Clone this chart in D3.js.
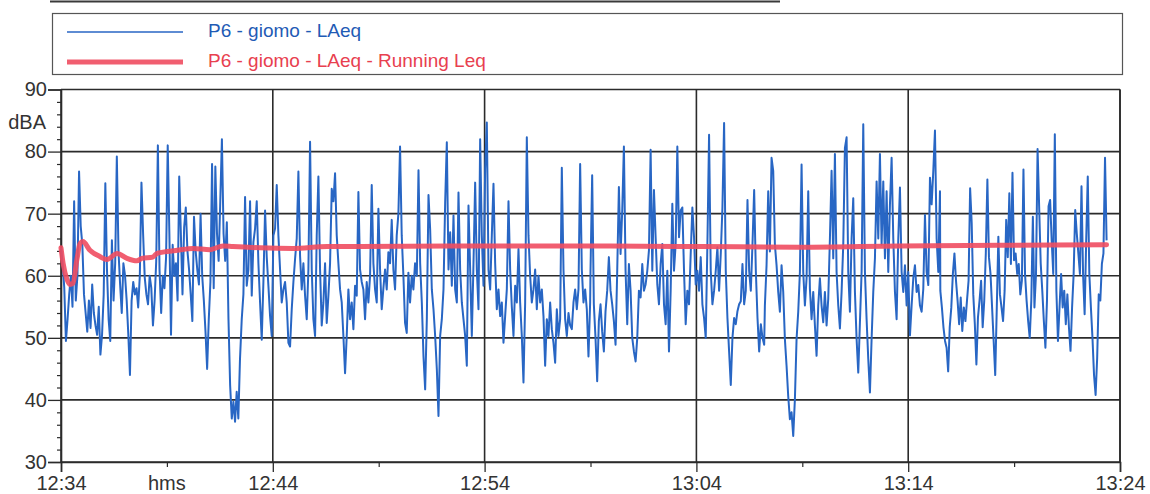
<!DOCTYPE html>
<html><head><meta charset="utf-8">
<script src="https://cdn.jsdelivr.net/npm/d3@7"></script>
<style>
body{margin:0;background:#fff}
svg{display:block}
text{font-family:"Liberation Sans",Arial,Helvetica,sans-serif}
</style>
</head><body>
<svg id="chart" width="1150" height="494"></svg>
<script>
// ---------- DATA ----------
const seriesNames = ["P6 - giomo - LAeq", "P6 - giomo - LAeq - Running Leq"];
const xTickLabels = ["12:34","12:44","12:54","13:04","13:14","13:24"];
const xMinorTicks = ["12:39","12:49","12:59","13:09","13:19"];
const yTicks = [30,40,50,60,70,80,90];
const yUnit = "dBA";
const xUnit = "hms";

// LAeq short samples, grouped in consecutive time spans
const segStarts = ["12:34:00","12:42:32","12:50:48","12:59:00","13:07:14","13:15:31"];
const segEnds   = ["12:42:27","12:50:43","12:58:59","13:07:12","13:15:30","13:23:22"];
const laeq1 = [64.5,62,58,49.5,53,57,60,55,72,56,60,76.8,68,65,57,54,51,56,51.6,58.6,54,52,50.5,55,47.3,50.5,57,74.9,61,53,49.5,65.7,56,62,79.2,64,58.6,54,62,60,56,50.5,44,56,59,57,58,54.9,60,75,66.8,59.7,57,55.4,60,58,52,56,62.4,81,61,54,60,58,63,81,66.8,50.5,65,60,62,56,76,66.8,57,67.8,71,64,61,57,52.7,69.5,64,61,58.6,70,60,56,51,45,53,59,78,58,77.6,66.8,62.4,72,82,66.8,62.4,68.6,53,42.4,37,39.7,36.5,41.3,37,46.5];
const laeq2 = [53,57,72.7,58.4,61,72,56.8,65.4,67.6,72,62,55.7,49.7,59,70.5,63,58.4,53.5,50.3,66.5,67.6,74.6,66.5,61,55.7,57.8,59,55.7,49.2,48.6,54.6,59,62.7,66,76.8,63.2,57.8,62,56.8,53,61,81.6,61,53,50.3,66.5,76,61,52,55.7,62,52.4,56.8,62,74,72,76.5,66.5,62,57.8,55.7,50.3,44.3,50.3,57.8,53,55.7,51.4,58.4,56.8,73.5,61,59,57.8,53,59,55.7,60,74.6,62,57.8,55.7,70.8,61,54.6,58,61,57.8,63.8,62,69,61,57.8,66.5,70,80.8,66.5,60,52.4,50.8,60.5,55.7,60,57.8,62];
const laeq3 = [60,77,62,55.7,47,41.7,53,73,67.5,57.8,54.6,50.3,45,37.4,50.3,53,57.8,71.8,81.5,61,67,58.4,69.7,57.8,55.7,73.4,61,55.7,53,50.3,45.5,71.3,61,50.3,62,75,61,54.6,82,66.5,58.4,77.2,84.7,61,57.8,66.5,74.8,62,54.6,57.8,53.5,55.7,49.2,53.5,57.8,72,61,55,50.3,58.4,55.7,64.3,55.7,50.3,42.8,55.7,82.3,66.5,60,55.7,57.8,61,54.6,60,55.7,57.8,53.5,45.5,53,50.3,55.7,51.4,49.2,46,54.6,50.3,53,77.4,61,53,50.3,54,52,51.4,55.7,57.8,54.6,57.8,78,61,55.7,57.8,54.6,47,55.7];
const laeq4 = [60.8,76.2,55.4,50,43,52.7,55.4,51,47.8,54.3,57.6,63,57.6,55.4,52.7,48.9,60.8,74.3,63.5,70.5,80.8,60.8,52.2,61.9,57.6,50,47.8,46.2,50,57.6,56.5,61.9,57.6,58.6,60.8,64.1,80.3,60.8,73.8,66.2,58.6,55.4,61.9,65.1,55.4,52.2,60.8,47.8,57.6,71.6,60.8,65.1,80.8,66.2,70.5,71,60.8,52.2,57.6,55.4,63.5,71,66.2,58.6,60.8,57.6,63,55.4,53.2,50,65.1,82.7,60.8,55.4,57.6,60.8,64.6,57.6,63.5,71,84.6,60.8,53.2,47.8,42.4,50,53.2,52.2,54.3,55.4,55.9,61.9,55.4,57.6,72.2,60.8,57.6,65.1,73.8,60.8,53.2,47.8,52.2,50,48.9];
const laeq5 = [55.2,61.7,73.6,63.9,79,76.9,65,61.7,57.4,54.2,61.7,57.4,49.8,45.5,40.6,36.9,38,34.2,40.1,49.8,54.2,60.6,77.9,60.6,55.2,59.6,73.6,57.9,53,57.4,52,47.1,55.2,59.6,55.2,52.5,57.4,52,56.3,66,76.9,62.8,79.6,60.6,55.2,51.5,57.4,65,80.6,82.3,60.6,54.2,66,72.5,57.4,49.8,44.4,52.5,60.6,84.4,60.6,53,46.6,41.2,49.8,57.4,62.8,75.2,66,79.6,65,75.2,62.8,73.6,60.6,71.5,79,66,57.4,53,66,74.2,60.6,57.4,61.7,55.2,60.6,50.4,55.2,59.6,61.7,57.4,58.5,55.2,54.2,57.9,69.8,60.6,58.5,75.8,71.5,76.9,83.4,66,60.6,73.6];
const laeq6 = [57.6,54.9,51.7,49.5,48.4,44.6,51.7,54.9,60.3,63.6,59.2,56,52.2,56.5,51.1,54.9,52.7,56,59.2,74.1,68.5,57,52.2,45.7,53.3,56,59.2,51.7,56,63.6,75.5,63,60.3,54.9,49.5,44,54.9,66.3,57,54.9,52.7,57.6,69,63,73.3,61.9,76.6,62.5,63.6,60.3,61.9,57,59.2,77.1,60.3,56,52.7,50,56,69.5,54.9,60.3,80.4,71.2,62,57.6,52.7,48.4,56,71.2,72.2,65.7,60.3,82.8,57.6,49.5,54.9,60.3,54.9,57.6,52.2,57,51.7,47.9,54.9,60.3,70.6,66.8,63.6,60.3,74.4,60.3,53.8,65.7,76,60.3,54.9,50,44,40.8,46.8,57,56,61.9,63.6,79,65.7];

// Running Leq
const leqTimes = ["12:34:00","12:34:06","12:34:17","12:34:25","12:34:34","12:34:45","12:34:54","12:35:02","12:35:22","12:35:50","12:36:10","12:36:39","12:37:07","12:37:35","12:37:49","12:38:20","12:38:32","12:39:00","12:39:29","12:40:14","12:41:02","12:41:39","12:42:07","12:43:24","12:44:57","12:46:34","12:48:07","12:52:22","12:59:27","13:04:10","13:08:54","13:13:36","13:18:18","13:23:22"];
const leqValues = [64.5,62,59.4,58.6,58.8,62.6,65.2,65.5,64.1,63.1,62.6,63.6,62.8,62.4,62.8,63.0,63.6,63.9,64.1,64.4,64.2,64.8,64.7,64.5,64.4,64.7,64.7,64.8,64.8,64.7,64.6,64.8,64.9,65.0];

// ---------- DRAW ----------
const svg = d3.select("#chart");
const parseHMS = d3.timeParse("%H:%M:%S");
const parseHM = d3.timeParse("%H:%M");
const L = 61, R = 1120, T = 89.5, B = 462;
const axisColor = "#2b2b2b";
const textColor = "#333";
const blue = "#2866c4";
const red = "#f04d60";

const x = d3.scaleTime()
  .domain([parseHM(xTickLabels[0]), parseHM(xTickLabels[xTickLabels.length-1])])
  .range([L, R]);
const y = d3.scaleLinear().domain([30, 90]).range([B, T]);

// stray scan line at very top
svg.append("line").attr("x1",50).attr("x2",780).attr("y1",1.5).attr("y2",1.5)
  .attr("stroke","#3a3a3a").attr("stroke-width",2);

// legend box
const lg = svg.append("g");
lg.append("rect").attr("x",52.5).attr("y",13.5).attr("width",1070).attr("height",61)
  .attr("fill","#fff").attr("stroke","#555").attr("stroke-width",1.2);
lg.append("line").attr("x1",67).attr("x2",183).attr("y1",32).attr("y2",32)
  .attr("stroke",blue).attr("stroke-width",1.6);
lg.append("line").attr("x1",67).attr("x2",183).attr("y1",62).attr("y2",62)
  .attr("stroke",red).attr("stroke-width",5).attr("stroke-opacity",0.9);
lg.append("text").attr("x",208).attr("y",37).attr("font-size",19)
  .attr("fill","#1f5bb5").text(seriesNames[0]);
lg.append("text").attr("x",208).attr("y",67).attr("font-size",19)
  .attr("fill","#e8404f").text(seriesNames[1]);

// grid
const grid = svg.append("g");
grid.selectAll("line.h").data(yTicks).join("line")
  .attr("x1",L).attr("x2",R).attr("y1",d=>y(d)).attr("y2",d=>y(d))
  .attr("stroke",axisColor).attr("stroke-width",1.6);
grid.selectAll("line.v").data(xTickLabels).join("line")
  .attr("x1",d=>x(parseHM(d))).attr("x2",d=>x(parseHM(d)))
  .attr("y1",T).attr("y2",B)
  .attr("stroke",axisColor).attr("stroke-width",1.6);

// left axis major + minor
const yAxis = svg.append("g").attr("transform",`translate(${L},0)`)
  .call(d3.axisLeft(y).tickValues(yTicks).tickSize(13).tickPadding(1).tickFormat(d3.format("d")));
yAxis.select(".domain").attr("stroke",axisColor).attr("stroke-width",1.6);
yAxis.selectAll(".tick line").attr("stroke",axisColor).attr("stroke-width",1.3);
yAxis.selectAll(".tick text").attr("font-size",20).attr("fill",textColor)
  .attr("font-family",'"Liberation Sans",Arial,sans-serif');
const yMinor = svg.append("g").attr("transform",`translate(${L},0)`)
  .call(d3.axisLeft(y).tickValues(d3.range(30,90,2).filter(v=>v%10!==0)).tickSize(4).tickFormat(""));
yMinor.select(".domain").remove();
yMinor.selectAll(".tick line").attr("stroke",axisColor).attr("stroke-width",1.2);

svg.append("text").attr("x",46).attr("y",129).attr("text-anchor","end")
  .attr("font-size",20).attr("fill",textColor).text(yUnit);

// bottom axis
const xAxis = svg.append("g").attr("transform",`translate(0,${B})`)
  .call(d3.axisBottom(x).tickValues(xTickLabels.map(parseHM)).tickSize(10).tickPadding(4)
    .tickFormat(d3.timeFormat("%H:%M")));
xAxis.select(".domain").attr("stroke",axisColor).attr("stroke-width",1.6);
xAxis.selectAll(".tick line").attr("stroke",axisColor).attr("stroke-width",1.3);
xAxis.selectAll(".tick text").attr("font-size",20).attr("fill",textColor)
  .attr("font-family",'"Liberation Sans",Arial,sans-serif');
const xMinor = svg.append("g").attr("transform",`translate(0,${B})`)
  .call(d3.axisBottom(x).tickValues(xMinorTicks.map(parseHM)).tickSize(5).tickFormat(""));
xMinor.select(".domain").remove();
xMinor.selectAll(".tick line").attr("stroke",axisColor).attr("stroke-width",1.2);

svg.append("text").attr("x",x(parseHM(xMinorTicks[0]))).attr("y",490).attr("text-anchor","middle")
  .attr("font-size",20).attr("fill",textColor).text(xUnit);

// right frame
svg.append("line").attr("x1",R).attr("x2",R).attr("y1",T).attr("y2",B)
  .attr("stroke",axisColor).attr("stroke-width",1.6);

// LAeq series
const segValues = [laeq1,laeq2,laeq3,laeq4,laeq5,laeq6];
const pts = [];
segValues.forEach((vals,s)=>{
  const t0 = parseHMS(segStarts[s]), t1 = parseHMS(segEnds[s]);
  vals.forEach((v,i)=>{
    pts.push({t:new Date(+t0 + (t1 - t0) * i / (vals.length - 1)), v});
  });
});
const line = d3.line().x(d=>x(d.t)).y(d=>y(d.v));
svg.append("path").datum(pts).attr("d",line)
  .attr("fill","none").attr("stroke",blue).attr("stroke-width",2)
  .attr("stroke-linejoin","round");

// Running Leq
const leqPts = leqTimes.map((t,i)=>({t:parseHMS(t), v:leqValues[i]}));
svg.append("path").datum(leqPts).attr("d",d3.line().x(d=>x(d.t)).y(d=>y(d.v)).curve(d3.curveMonotoneX))
  .attr("fill","none").attr("stroke",red).attr("stroke-width",5).attr("stroke-opacity",0.9)
  .attr("stroke-linejoin","round").attr("stroke-linecap","round");
</script>
</body></html>
